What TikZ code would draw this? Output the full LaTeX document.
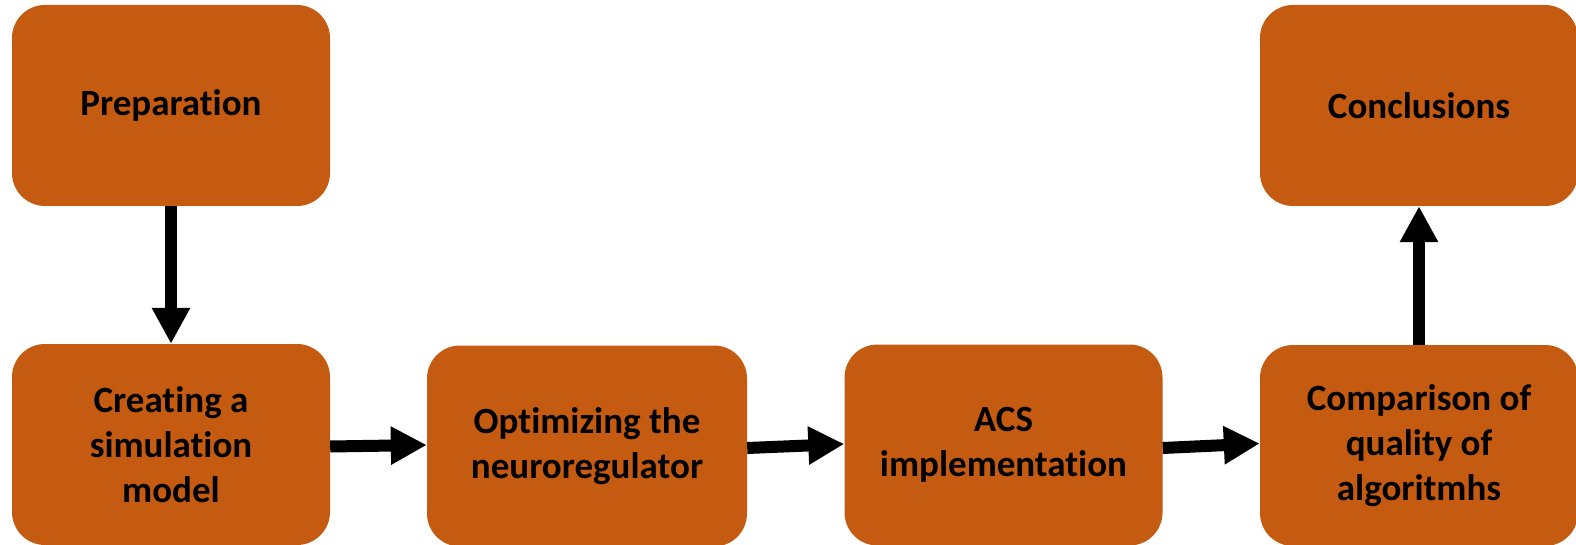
\documentclass[tikz,border=0pt]{standalone}
\usepackage{fontspec}
\setmainfont{Carlito}[Ligatures=NoCommon]
\usetikzlibrary{arrows.meta}
\definecolor{boxorange}{HTML}{C55A11}
\begin{document}
\begin{tikzpicture}[x=1pt,y=-1pt,
  stagebox/.style={fill=boxorange, draw=none, rounded corners=33pt,
    minimum width=318pt, minimum height=201pt, inner sep=0pt,
    align=center,
    font=\fontsize{37}{45}\selectfont\bfseries},
  flow/.style={line width=12pt, -{Triangle[length=36pt,width=36pt]}}]
\useasboundingbox (0,0) rectangle (1576,545);
\node[stagebox] (prep) at (171,105.5) {Preparation};
\node[stagebox] (cre) at (171,444.5) {Creating a\\simulation\\model};
\node[stagebox, minimum width=320pt] (opt) at (587,446) {Optimizing the\\neuroregulator};
\node[stagebox] (acs) at (1003.5,445) {ACS\\implementation};
\node[stagebox] (cmp) at (1419,445.5) {Comparison of\\quality of\\algoritmhs};
\node[stagebox] (conc) at (1419,105.5) {Conclusions};
\draw[flow] (prep.south) -- (cre.north);
\draw[flow] ([yshift=-2pt]cre.east) -- ([yshift=1pt]opt.west);
\draw[flow] ([yshift=-2pt]opt.east) -- ([yshift=1pt]acs.west);
\draw[flow] ([yshift=-3pt]acs.east) -- ([yshift=2pt]cmp.west);
\draw[flow] (cmp.north) -- (conc.south);
\end{tikzpicture}
\end{document}
